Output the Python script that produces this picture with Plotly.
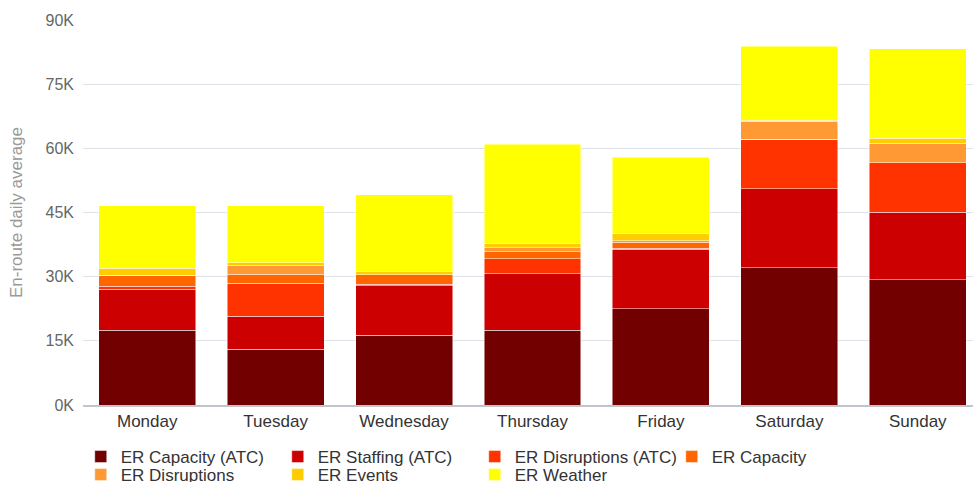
import plotly.graph_objects as go

days = ["Monday", "Tuesday", "Wednesday", "Thursday", "Friday", "Saturday", "Sunday"]

# En-route daily average by delay cause (flights)
er_capacity_atc = [17460, 13090, 16290, 17460, 22510, 32100, 29300]
er_staffing_atc = [9580, 7710, 11530, 13250, 13880, 18470, 15800]
er_disruptions_atc = [770, 7640, 400, 3430, 300, 11600, 11500]
er_capacity = [2570, 2180, 2180, 1710, 1400, 0, 0]
er_disruptions = [0, 2100, 0, 930, 300, 4140, 4600]
er_events = [1570, 540, 700, 1000, 1710, 200, 1170]
er_weather = [14630, 13320, 18000, 23200, 17860, 17300, 20900]

series_names = ["ER Capacity (ATC)", "ER Staffing (ATC)", "ER Disruptions (ATC)", "ER Capacity",
                "ER Disruptions", "ER Events", "ER Weather"]
series_values = [er_capacity_atc, er_staffing_atc, er_disruptions_atc, er_capacity,
                 er_disruptions, er_events, er_weather]
series_colors = ["#730000", "#CC0000", "#FF3300", "#FF6600", "#FF9933", "#FFCC00", "#FFFF00"]

tick_values = [0, 15000, 30000, 45000, 60000, 75000, 90000]
tick_labels = ["0K", "15K", "30K", "45K", "60K", "75K", "90K"]

fig = go.Figure()
for i, (name, vals, color) in enumerate(zip(series_names, series_values, series_colors)):
    # first four causes on the upper legend row, the rest on the lower one
    fig.add_trace(go.Bar(
        name=name, x=days, y=vals,
        legend="legend" if i < 4 else "legend2",
        marker=dict(color=color, line=dict(color="rgba(255,255,255,0.8)", width=0.6)),
    ))

font_family = "Liberation Sans, Arial, sans-serif"
legend_style = dict(
    orientation="h",
    x=0.083, xanchor="left", xref="container",
    yanchor="top", yref="container",
    traceorder="normal",
    entrywidth=152, entrywidthmode="pixels",
    font=dict(size=17, color="#333333"),
    itemwidth=30,
    bgcolor="rgba(0,0,0,0)",
)

fig.update_layout(
    barmode="stack",
    bargap=0.245,
    width=973, height=482,
    margin=dict(l=83, r=0, t=20, b=77, autoexpand=False),
    paper_bgcolor="white",
    plot_bgcolor="white",
    font=dict(family=font_family, size=16, color="#333333"),
    xaxis=dict(
        range=[-0.5, 6.43],
        showgrid=False,
        showline=True, linecolor="#c0c4cc", linewidth=1.5,
        ticks="", tickfont=dict(size=17, color="#333333"),
    ),
    yaxis=dict(
        range=[0, 90000],
        tickvals=tick_values, ticktext=tick_labels,
        showgrid=True, gridcolor="#dde1e8", gridwidth=1.2,
        zeroline=False, showline=False,
        ticks="", ticklabelstandoff=8,
        tickfont=dict(size=16, color="#666666"),
        title=dict(text="En-route daily average", font=dict(size=17, color="#999999"), standoff=18),
    ),
    legend=dict(legend_style, y=0.0892),
    legend2=dict(legend_style, y=0.0518),
    showlegend=True,
)

fig.write_html("out.html")
